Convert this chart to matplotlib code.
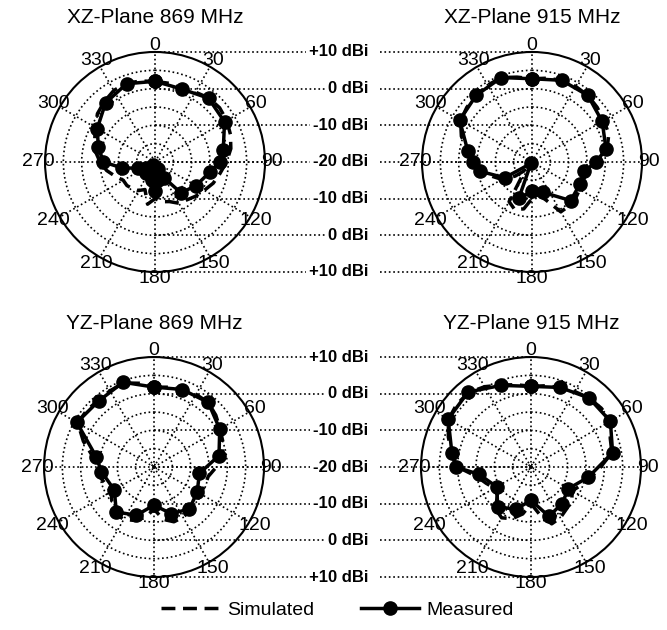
import numpy as np
import matplotlib.pyplot as plt
from matplotlib.lines import Line2D

plt.rcParams["font.family"] = ["Liberation Sans", "DejaVu Sans"]

titles = ["XZ-Plane 869 MHz", "XZ-Plane 915 MHz",
          "YZ-Plane 869 MHz", "YZ-Plane 915 MHz"]

theta_labels = ["0", "30", "60", "90", "120", "150",
                "180", "210", "240", "270", "300", "330"]

level_labels = ["+10 dBi", "0 dBi", "-10 dBi", "-20 dBi",
                "-10 dBi", "0 dBi", "+10 dBi"]
level_values = [10, 0, -10, -20, -10, 0, 10]

# simulated curves, sampled every 10 deg (dBi)
sim_ang = [0, 10, 20, 30, 40, 50, 60, 70, 80, 90, 100, 110,
           120, 130, 140, 150, 160, 170, 180, 190, 200, 210, 220, 230,
           240, 250, 260, 270, 280, 290, 300, 310, 320, 330, 340, 350]

xz869_sim = [2.0, 1.8, 1.4, 2.0, 2.8, 3.0, 2.6, 1.9, 1.0, -0.5, -2.0, -3.1,
             -4.5, -5.5, -6.5, -7.0, -8.5, -9.0, -10.0, -8.3, -12.0, -11.0, -10.5, -10.0,
             -10.0, -8.5, -6.6, -5.0, -3.5, -2.5, -1.2, 0.5, 1.5, 2.5, 2.9, 2.4]
xz915_sim = [2.7, 3.2, 3.7, 3.8, 3.7, 3.2, 2.6, 2.3, 0.8, -2.5, -4.5, -5.3,
             -5.0, -4.5, -4.3, -4.3, -9.0, -11.0, -10.0, -7.0, -6.2, -7.5, -17.0, -14.0,
             -10.5, -8.5, -5.5, -3.8, -2.2, 0.5, 2.5, 3.2, 3.7, 4.2, 4.5, 3.5]
yz869_sim = [1.8, 2.1, 2.6, 2.9, 3.0, 2.0, 0.8, 0.0, -1.0, -3.0, -5.0, -5.2,
             -5.5, -5.0, -4.5, -4.2, -4.1, -5.5, -8.5, -6.0, -4.5, -3.5, -3.5, -5.0,
             -6.5, -6.0, -5.0, -4.5, -3.0, 0.5, 4.0, 4.0, 3.7, 4.0, 4.4, 3.2]
yz915_sim = [2.0, 2.5, 3.1, 3.8, 4.6, 5.0, 5.2, 3.0, 2.4, -1.0, -3.5, -5.5,
             -7.0, -5.5, -5.0, -4.0, -3.5, -7.0, -10.0, -7.0, -5.0, -4.0, -5.0, -8.0,
             -8.5, -7.0, -5.0, 0.0, 2.0, 4.0, 6.0, 6.5, 6.5, 5.3, 3.8, 2.8]

# measured points (deg, dBi)
xz869_meas_ang = [0, 20, 40, 60, 80, 90, 100, 120, 140, 150, 160, 170, 180,
                  190, 200, 210, 220, 235, 250, 260, 270, 285, 300, 320, 340]
xz869_meas = [2.0, 1.2, 2.7, 1.9, -1.1, -2.3, -4.7, -7.1, -9.0, -15.0, -18.0, -15.0, -12.0,
              -15.0, -17.0, -19.0, -16.0, -17.0, -15.0, -10.8, -5.9, -4.0, -1.8, 1.0, 2.7]

xz915_meas_ang = [0, 20, 40, 60, 80, 90, 100, 115, 135, 160, 180, 200, 215,
                  240, 260, 270, 280, 300, 320, 340]
xz915_meas = [2.7, 3.7, 3.7, 2.1, 0.5, -2.5, -5.5, -5.6, -5.1, -11.2, -12.0, -9.4, -19.5,
              -11.4, -5.5, -4.0, -2.2, 2.8, 3.7, 4.5]

yz869_meas_ang = [0, 20, 40, 60, 80, 98, 120, 140, 160, 180, 200, 220,
                  240, 265, 280, 300, 320, 340]
yz869_meas = [1.8, 2.5, 3.0, 0.7, -2.0, -7.5, -6.4, -5.0, -6.5, -9.6, -6.0, -4.0,
              -7.5, -5.6, -4.0, 4.3, 3.5, 4.6]

yz915_meas_ang = [0, 20, 40, 60, 80, 100, 120, 140, 160, 180, 200, 220,
                  240, 262, 270, 280, 300, 320, 340]
yz915_meas = [2.0, 3.1, 4.6, 5.0, 2.6, -4.1, -8.2, -6.9, -5.7, -10.9, -7.7, -5.9,
              -9.2, -5.7, 0.5, 1.9, 6.1, 6.7, 3.7]

sims = [xz869_sim, xz915_sim, yz869_sim, yz915_sim]
meas_angs = [xz869_meas_ang, xz915_meas_ang, yz869_meas_ang, yz915_meas_ang]
meas = [xz869_meas, xz915_meas, yz869_meas, yz915_meas]

fig = plt.figure(figsize=(6.67, 6.3), dpi=100)

# left, bottom, width, height
boxes = [[0.0675, 0.5683, 0.3298, 0.3492],
         [0.6327, 0.5683, 0.3298, 0.3492],
         [0.066, 0.0841, 0.3298, 0.3492],
         [0.6312, 0.0841, 0.3298, 0.3492]]

dash = (0, (4, 2.2))
axes = []

for i in range(4):
    ax = fig.add_axes(boxes[i], projection="polar")
    ax.set_facecolor("none")
    ax.set_theta_zero_location("N")
    ax.set_theta_direction(-1)
    ax.set_ylim(-20, 10)
    ax.set_yticks([-19.3, -15, -10, -5, 0, 5])
    ax.set_yticklabels([])
    ax.set_xticks(np.radians(np.arange(0, 360, 30)))
    ax.set_xticklabels(theta_labels)
    ax.tick_params(axis="x", labelsize=14, pad=-2, length=0)
    ax.grid(True, color="black", linestyle=":", linewidth=1.2)
    ax.spines["polar"].set_linewidth(1.5)

    th = np.radians(sim_ang + [sim_ang[0]])
    ax.plot(th, sims[i] + [sims[i][0]], color="black", lw=2.5, linestyle=dash)

    th = np.radians(meas_angs[i] + [meas_angs[i][0]])
    ax.plot(th, meas[i] + [meas[i][0]], "-o", color="black", lw=2.5, ms=9.5)

    axes.append(ax)

to_fig = fig.transFigure.inverted()

# titles above each plot
for i in range(4):
    cx, top = to_fig.transform(axes[i].transData.transform((0, 10)))
    ty = 0.973 if i < 2 else 0.486
    fig.text(cx, ty, titles[i], ha="center", va="center", fontsize=15)

# shared dBi scale between the two plots of each row
label_x = 0.552
for row in range(2):
    left_ax = axes[row * 2]
    right_ax = axes[row * 2 + 1]
    x_left = to_fig.transform(left_ax.transData.transform((0, -20)))[0]
    x_right = to_fig.transform(right_ax.transData.transform((0, -20)))[0]
    for k in range(len(level_values)):
        th = 0 if k < 3 else np.pi
        y = to_fig.transform(left_ax.transData.transform((th, level_values[k])))[1]
        fig.add_artist(Line2D([x_left, label_x], [y, y], transform=fig.transFigure,
                              color="black", linestyle=":", lw=1.2, zorder=-1))
        fig.add_artist(Line2D([label_x + 0.018, x_right], [y, y], transform=fig.transFigure,
                              color="black", linestyle=":", lw=1.2, zorder=-1))
        fig.text(label_x, y, level_labels[k], ha="right", va="center",
                 fontsize=12, fontweight="bold",
                 bbox=dict(facecolor="white", edgecolor="none", pad=2))

handles = [Line2D([], [], color="black", lw=2.5, linestyle=dash),
           Line2D([], [], color="black", lw=2.5, marker="o", ms=9.5)]
fig.legend(handles, ["Simulated", "Measured"], loc="center",
           bbox_to_anchor=(0.506, 0.032), ncol=2, frameon=False, fontsize=14,
           handlelength=3, columnspacing=2.4, handletextpad=0.4)

fig.savefig("out.png", dpi=100)
